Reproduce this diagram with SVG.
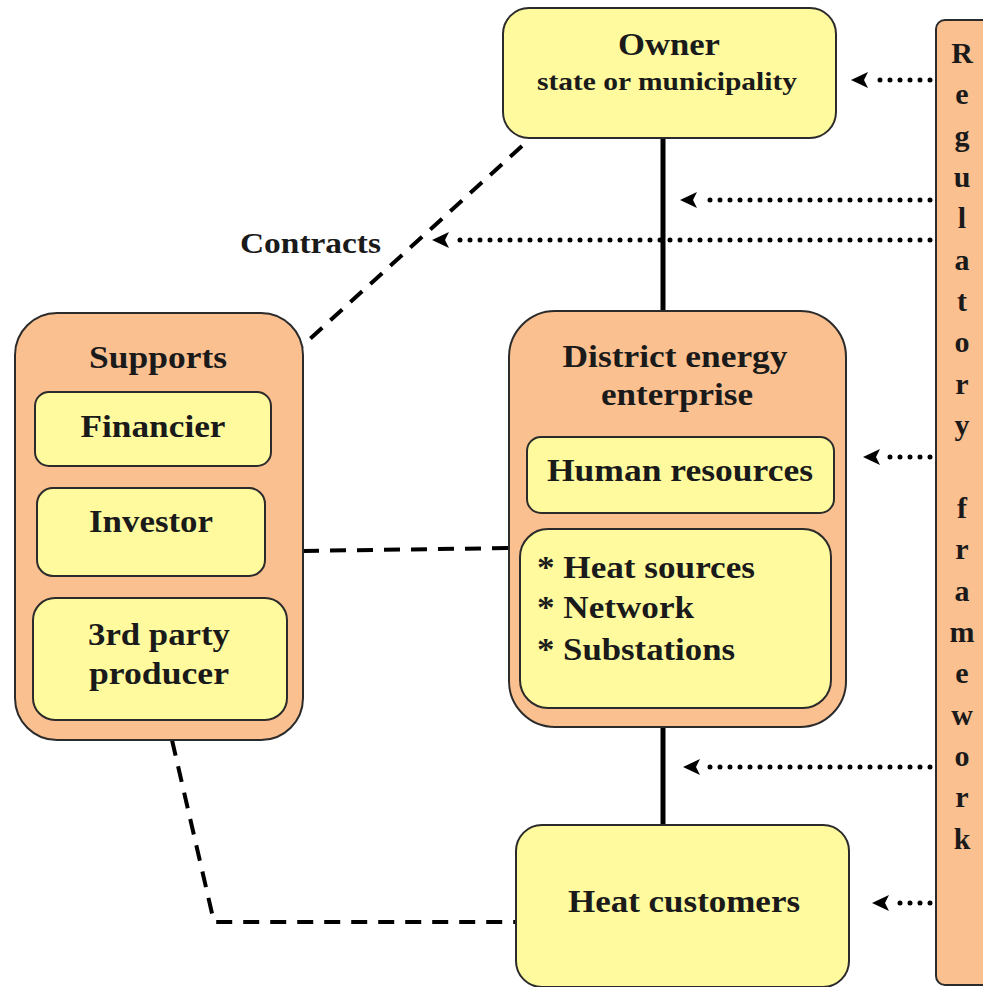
<svg xmlns="http://www.w3.org/2000/svg" width="983" height="987" viewBox="0 0 983 987">
<style>
  text{font-family:'Liberation Serif','Times New Roman',Tinos,serif;font-weight:700;fill:#1a1a1a;}
  .yl{fill:#FFFA9E;stroke:#2b2b2b;stroke-width:2;}
  .or{fill:#FAC090;stroke:#2b2b2b;stroke-width:2;}
  .solid{stroke:#000;stroke-width:5;fill:none;}
  .dash{stroke:#000;stroke-width:4;fill:none;stroke-dasharray:16 11;}
  .dot{stroke:#000;stroke-width:5;fill:none;stroke-dasharray:0 10;stroke-linecap:round;}
</style>
<rect width="983" height="987" fill="#fff"/>

<g id="connectors">
  <line class="solid" x1="663" y1="138" x2="663" y2="311"/>
  <line class="solid" x1="663" y1="727" x2="663" y2="825"/>
  <line class="dash" x1="522" y1="146" x2="301" y2="347"/>
  <line class="dash" x1="303" y1="551" x2="509" y2="548"/>
  <polyline class="dash" points="172,740 214,922 516,922"/>
  <line class="dot" x1="930" y1="80" x2="870" y2="80"/>
  <line class="dot" x1="930" y1="200" x2="700" y2="200"/>
  <line class="dot" x1="930" y1="240" x2="450" y2="240"/>
  <line class="dot" x1="930" y1="457" x2="880" y2="457"/>
  <line class="dot" x1="930" y1="767" x2="700" y2="767"/>
  <line class="dot" x1="930" y1="903" x2="890" y2="903"/>
  <path d="M851,80 L868,72 L864,80 L868,88 Z" fill="#000"/>
  <path d="M680,200 L697,192 L693,200 L697,208 Z" fill="#000"/>
  <path d="M432,240 L449,232 L445,240 L449,248 Z" fill="#000"/>
  <path d="M863,457 L880,449 L876,457 L880,465 Z" fill="#000"/>
  <path d="M683,767 L700,759 L696,767 L700,775 Z" fill="#000"/>
  <path d="M872,903 L889,895 L885,903 L889,911 Z" fill="#000"/>
  <text x="240" y="253" font-family="Liberation Serif" font-size="30" textLength="141" lengthAdjust="spacingAndGlyphs">Contracts</text>
</g>

<g id="owner" font-family="Liberation Serif">
  <rect class="yl" x="503" y="8" width="333" height="130" rx="26"/>
  <text x="669" y="55" font-size="32" text-anchor="middle" textLength="102" lengthAdjust="spacingAndGlyphs">Owner</text>
  <text x="667" y="90" font-size="26" text-anchor="middle" textLength="260" lengthAdjust="spacingAndGlyphs">state or municipality</text>
</g>

<g id="regulatory-framework">
  <rect class="or" x="936" y="20" width="70" height="965" rx="9"/>
  <g font-size="30" text-anchor="middle" font-family="Liberation Serif">
    <text x="962" y="63">R</text>
    <text x="962" y="104">e</text>
    <text x="962" y="146">g</text>
    <text x="962" y="187">u</text>
    <text x="962" y="228">l</text>
    <text x="962" y="270">a</text>
    <text x="962" y="311">t</text>
    <text x="962" y="352">o</text>
    <text x="962" y="394">r</text>
    <text x="962" y="435">y</text>
    <text x="962" y="518">f</text>
    <text x="962" y="559">r</text>
    <text x="962" y="601">a</text>
    <text x="962" y="642">m</text>
    <text x="962" y="683">e</text>
    <text x="962" y="725">w</text>
    <text x="962" y="766">o</text>
    <text x="962" y="807">r</text>
    <text x="962" y="849">k</text>
  </g>
</g>

<g id="supports" font-family="Liberation Serif">
  <rect class="or" x="15" y="313" width="288" height="427" rx="42"/>
  <text x="158" y="368" font-size="32" text-anchor="middle" textLength="138" lengthAdjust="spacingAndGlyphs">Supports</text>
</g>
<g id="financier" font-family="Liberation Serif">
  <rect class="yl" x="35" y="392" width="236" height="74" rx="14"/>
  <text x="153" y="437" font-size="32" text-anchor="middle" textLength="145" lengthAdjust="spacingAndGlyphs">Financier</text>
</g>
<g id="investor" font-family="Liberation Serif">
  <rect class="yl" x="37" y="488" width="228" height="88" rx="16"/>
  <text x="151" y="532" font-size="32" text-anchor="middle" textLength="124" lengthAdjust="spacingAndGlyphs">Investor</text>
</g>
<g id="third-party-producer" font-family="Liberation Serif">
  <rect class="yl" x="33" y="598" width="254" height="122" rx="22"/>
  <text x="159" y="645" font-size="32" text-anchor="middle" textLength="142" lengthAdjust="spacingAndGlyphs">3rd party</text>
  <text x="159" y="684" font-size="32" text-anchor="middle" textLength="140" lengthAdjust="spacingAndGlyphs">producer</text>
</g>

<g id="district-energy-enterprise" font-family="Liberation Serif">
  <rect class="or" x="509" y="311" width="337" height="416" rx="46"/>
  <text x="675" y="367" font-size="32" text-anchor="middle" textLength="225" lengthAdjust="spacingAndGlyphs">District energy</text>
  <text x="677" y="405" font-size="32" text-anchor="middle" textLength="152" lengthAdjust="spacingAndGlyphs">enterprise</text>
</g>
<g id="human-resources" font-family="Liberation Serif">
  <rect class="yl" x="527" y="437" width="307" height="76" rx="14"/>
  <text x="680" y="481" font-size="32" text-anchor="middle" textLength="266" lengthAdjust="spacingAndGlyphs">Human resources</text>
</g>
<g id="assets" font-family="Liberation Serif">
  <rect class="yl" x="520" y="529" width="311" height="179" rx="28"/>
  <text x="537" y="578" font-size="32" textLength="218" lengthAdjust="spacingAndGlyphs">* Heat sources</text>
  <text x="537" y="618" font-size="32" textLength="157" lengthAdjust="spacingAndGlyphs">* Network</text>
  <text x="537" y="660" font-size="32" textLength="198" lengthAdjust="spacingAndGlyphs">* Substations</text>
</g>

<g id="heat-customers" font-family="Liberation Serif">
  <rect class="yl" x="516" y="825" width="333" height="162" rx="26"/>
  <text x="684" y="912" font-size="32" text-anchor="middle" textLength="232" lengthAdjust="spacingAndGlyphs">Heat customers</text>
</g>
</svg>
